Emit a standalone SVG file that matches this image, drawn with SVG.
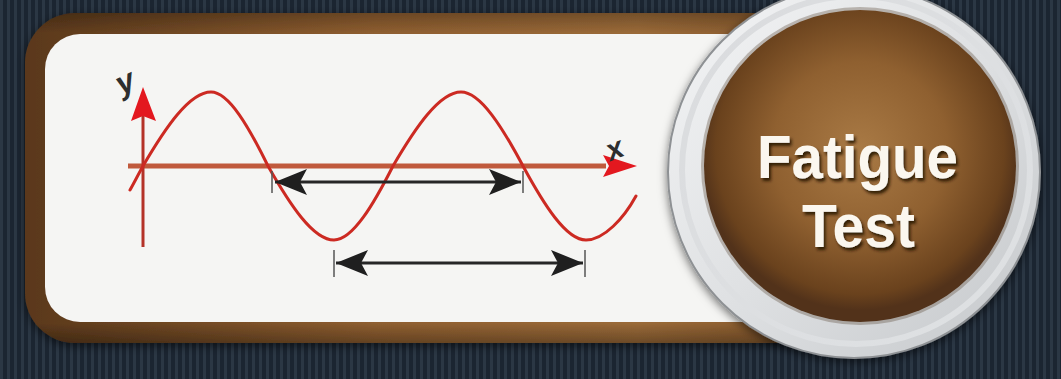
<svg xmlns="http://www.w3.org/2000/svg" width="1061" height="379" viewBox="0 0 1061 379">
  <defs>
    <pattern id="stripes" width="7" height="20" patternUnits="userSpaceOnUse">
      <rect width="7" height="20" fill="#1b2531"/>
      <rect x="0" width="3" height="20" fill="#2b3744"/>
    </pattern>
    <linearGradient id="frameGrad" x1="25" y1="0" x2="900" y2="0" gradientUnits="userSpaceOnUse">
      <stop offset="0" stop-color="#5a381b"/>
      <stop offset="0.4" stop-color="#8e5e30"/>
      <stop offset="0.7" stop-color="#9a6a38"/>
      <stop offset="1" stop-color="#7a4e26"/>
    </linearGradient>
    <linearGradient id="frameShade" x1="0" y1="13" x2="0" y2="343" gradientUnits="userSpaceOnUse">
      <stop offset="0" stop-color="#000" stop-opacity="0.25"/>
      <stop offset="0.06" stop-color="#000" stop-opacity="0"/>
      <stop offset="0.94" stop-color="#000" stop-opacity="0"/>
      <stop offset="1" stop-color="#000" stop-opacity="0.3"/>
    </linearGradient>
    <linearGradient id="ringGrad" x1="0" y1="0" x2="1" y2="1">
      <stop offset="0" stop-color="#f4f5f6"/>
      <stop offset="0.5" stop-color="#dfe1e3"/>
      <stop offset="1" stop-color="#c4c7ca"/>
    </linearGradient>
    <linearGradient id="ringInner" x1="0" y1="0" x2="1" y2="1">
      <stop offset="0" stop-color="#c9cbce"/>
      <stop offset="1" stop-color="#eef0f2"/>
    </linearGradient>
    <radialGradient id="discGrad" cx="860" cy="150" r="160" gradientUnits="userSpaceOnUse">
      <stop offset="0" stop-color="#a97a45"/>
      <stop offset="0.55" stop-color="#8f6030"/>
      <stop offset="0.9" stop-color="#6a421d"/>
      <stop offset="1" stop-color="#52321a"/>
    </radialGradient>
    <filter id="softShadow" x="-20%" y="-20%" width="140%" height="140%">
      <feDropShadow dx="0" dy="3" stdDeviation="5" flood-color="#000" flood-opacity="0.55"/>
    </filter>
    <filter id="textShadow" x="-10%" y="-20%" width="120%" height="140%">
      <feDropShadow dx="2" dy="3" stdDeviation="1.5" flood-color="#2a1606" flood-opacity="0.9"/>
    </filter>
    <marker id="dimHead" viewBox="-34 -15 36 30" refX="0" refY="0" markerWidth="36" markerHeight="30" markerUnits="userSpaceOnUse" orient="auto-start-reverse">
      <path d="M0,0 L-32,-13 L-25,0 L-32,13 Z" fill="#1f1f1f"/>
    </marker>
    <style>
      .axis-x { stroke: #c05a3c; stroke-width: 5; fill: none; }
      .axis-y { stroke: #b43228; stroke-width: 3; fill: none; }
      .head { fill: #e3181f; }
      .wave { stroke: #cc2a22; stroke-width: 3; fill: none; stroke-linecap: round; }
      .dim { stroke: #262626; stroke-width: 3; fill: none; marker-start: url(#dimHead); marker-end: url(#dimHead); }
      .tick { stroke: #555; stroke-width: 1.5; }
      .lbl { font-family: "Liberation Sans", Arial, sans-serif; font-style: italic; font-weight: bold; fill: #2e2e2e; }
      .title { font-family: "Liberation Sans", Arial, sans-serif; font-weight: bold; font-size: 61px; fill: #fbf7ef; filter: url(#textShadow); }
    </style>
  </defs>

  <g id="background">
    <rect width="1061" height="379" fill="url(#stripes)"/>
  </g>

  <g id="frame" filter="url(#softShadow)">
    <rect x="25" y="13" width="875" height="330" rx="50" fill="url(#frameGrad)"/>
    <rect x="25" y="13" width="875" height="330" rx="50" fill="url(#frameShade)"/>
    <rect x="45" y="34" width="840" height="288" rx="35" fill="#f5f5f3"/>
  </g>

  <g id="chart">
    <line class="axis-x" x1="128" y1="166" x2="606" y2="166"/>
    <polygon class="head" points="637,166 603,155 609,166 603,177"/>
    <line class="axis-y" x1="143" y1="247" x2="143" y2="116"/>
    <polygon class="head" points="143,87 131,121 143,116 156,121"/>
    <path class="wave" d="M130,190 C134,183 138,175 143,166 C165.2,128.1 189.4,92 211,92 C229.1,92 249.4,128.1 268,166 C289.5,203.9 313,240 334,240 C352.8,240 373.8,203.9 393,166 C415.2,128.1 439.4,92 461,92 C480.7,92 502.8,128.1 523,166 C543.5,203.9 566,240 586,240 C604,240 624,218 636,196"/>
    <text class="lbl" x="117" y="91" font-size="32" transform="rotate(-25 129 83)">y</text>
    <text class="lbl" x="607" y="157" font-size="30" transform="rotate(-22 620 150)">x</text>
  </g>

  <g id="connectors">
    <line class="tick" x1="272" y1="171" x2="272" y2="193"/>
    <line class="tick" x1="523" y1="171" x2="523" y2="193"/>
    <path class="dim" d="M275,182 L521,182"/>
    <line class="tick" x1="334" y1="250" x2="334" y2="277"/>
    <line class="tick" x1="585" y1="250" x2="585" y2="277"/>
    <path class="dim" d="M336,263 L583,263"/>
  </g>

  <g id="badge">
    <circle cx="854" cy="172" r="186" fill="url(#ringGrad)" stroke="#8e9194" stroke-width="2" filter="url(#softShadow)"/>
    <circle cx="856" cy="170" r="174" fill="none" stroke="url(#ringInner)" stroke-width="6" opacity="0.6"/>
    <circle cx="860" cy="166" r="159" fill="#5b4a3a" opacity="0.35"/>
    <circle cx="860" cy="166" r="156" fill="url(#discGrad)"/>
    <text class="title" text-anchor="middle"><tspan x="857.5" y="178" textLength="201" lengthAdjust="spacingAndGlyphs">Fatigue</tspan><tspan x="858.5" y="247" textLength="113" lengthAdjust="spacingAndGlyphs">Test</tspan></text>
  </g>
</svg>
